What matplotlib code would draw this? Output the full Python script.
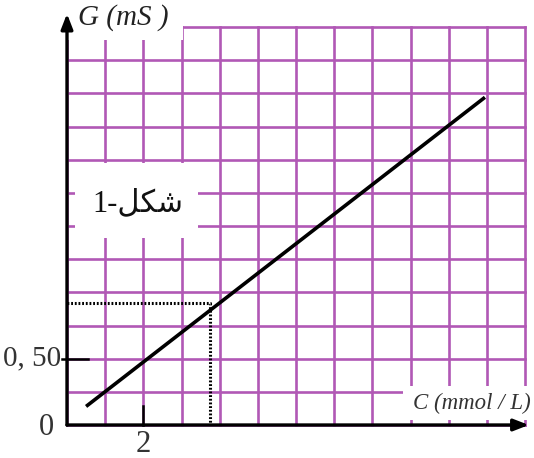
"""
Conductance G versus concentration C (figure 1).
"""

import matplotlib.pyplot as plt


# ==========================================================
# Data
# ==========================================================

C_LINE = [0.5, 10.95]      # mmol/L, end points of the drawn line
G_LINE = [0.14, 2.47]      # mS

C_READ = 3.75              # dotted read-off point
G_READ = 0.92

X_TICKS = [2]
X_TICK_LABELS = ["2"]
Y_TICKS = [0.5]
Y_TICK_LABELS = ["0, 50"]

C_MAX = 12
G_MAX = 3
C_STEP = 1
G_STEP = 0.25

GRID_COLOR = "#b158b5"
SERIF = ["Liberation Serif", "DejaVu Serif"]


# ==========================================================
# Main
# ==========================================================

def main():

    fig = plt.figure(figsize=(5.34, 4.58), dpi=100)
    ax = fig.add_axes([67 / 534, 33 / 458, 458 / 534, 398 / 458])

    ax.set_xlim(0, C_MAX)
    ax.set_ylim(0, G_MAX)
    ax.axis("off")

    # grid
    n_cols = int(C_MAX / C_STEP)
    n_rows = int(G_MAX / G_STEP)
    for i in range(n_cols + 1):
        ax.plot([i * C_STEP] * 2, [0, G_MAX], color=GRID_COLOR,
                linewidth=1.9, zorder=1, clip_on=False)
    for j in range(n_rows + 1):
        ax.plot([0, C_MAX], [j * G_STEP] * 2, color=GRID_COLOR,
                linewidth=1.9, zorder=1, clip_on=False)

    # white patches where the labels sit
    for x0, x1, y0, y1 in [(0.03, 3.05, 2.9, 3.15),
                           (0.21, 3.43, 1.41, 1.975),
                           (8.8, 12.3, 0.04, 0.295)]:
        ax.fill_between([x0, x1], y0, y1, color="white",
                        zorder=2, linewidth=0, clip_on=False)

    # axes with arrows
    arrow = dict(arrowstyle="-|>,head_length=0.9,head_width=0.35",
                 color="black", linewidth=2.4, shrinkA=0, shrinkB=0)
    ax.annotate("", xy=(0, 3.1), xytext=(0, 0), arrowprops=arrow,
                annotation_clip=False, zorder=5)
    ax.annotate("", xy=(12.1, 0), xytext=(0, 0), arrowprops=arrow,
                annotation_clip=False, zorder=5)

    # ticks
    for y in Y_TICKS:
        ax.plot([-0.13, 0.55], [y, y], color="black", linewidth=1.8,
                zorder=5, clip_on=False)
    for x in X_TICKS:
        ax.plot([x, x], [0, 0.14], color="black", linewidth=1.8,
                zorder=5, clip_on=False)

    # line and dotted read-off
    ax.plot(C_LINE, G_LINE, color="black", linewidth=2.6,
            solid_capstyle="butt", zorder=4)
    ax.plot([0, C_READ, C_READ], [G_READ, G_READ, 0], color="black",
            linewidth=2.2, linestyle=(0, (0.6, 0.6)), zorder=3)

    # labels
    for y, lab in zip(Y_TICKS, Y_TICK_LABELS):
        ax.text(-0.15, y, lab, ha="right", va="center",
                fontsize=21, family=SERIF, color="#333333")
    for x, lab in zip(X_TICKS, X_TICK_LABELS):
        ax.text(x, -0.04, lab, ha="center", va="top",
                fontsize=22, family=SERIF, color="#333333")
    ax.text(-0.55, -0.02, "0", ha="center", va="center",
            fontsize=22, family=SERIF, color="#333333")

    ax.text(0.3, 3.07, "G (mS )", ha="left", va="center",
            fontsize=21, style="italic", family=SERIF, color="#222222")
    ax.text(10.6, 0.16, "C (mmol / L)", ha="center", va="center",
            fontsize=16.5, style="italic", family=SERIF, color="#333333")

    # "figure 1" label (presentation forms, visual order)
    ax.text(1.85, 1.67, "1-\ufede\ufedc\ufeb7", ha="center", va="center",
            fontsize=22, family=["Liberation Serif", "DejaVu Sans"],
            color="#111111", zorder=6)

    fig.savefig("out.png", dpi=100)
    plt.close(fig)


if __name__ == "__main__":
    main()
